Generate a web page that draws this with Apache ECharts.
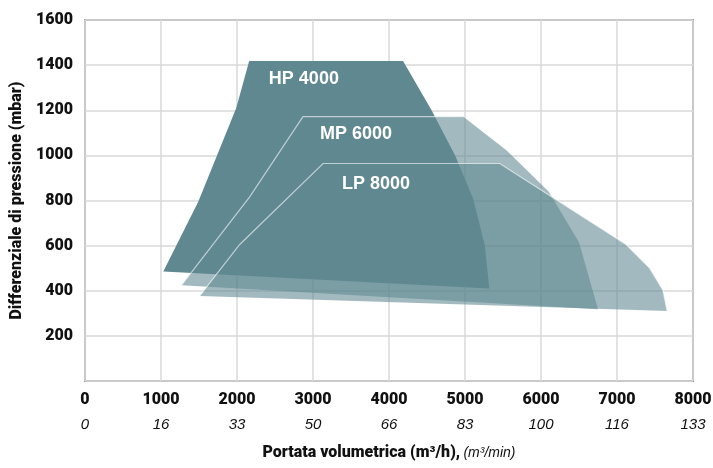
<!DOCTYPE html>
<html>
<head>
<meta charset="utf-8">
<script src="https://cdn.jsdelivr.net/npm/echarts@6/dist/echarts.min.js"></script>
<style>
  html, body { margin: 0; padding: 0; background: #fff; }
  #chart { width: 713px; height: 468px; }
</style>
</head>
<body>
<div id="chart"></div>
<script>
// envelope of each blower, [m3/h, mbar], bottom-left first, then up, across the top and down the right
const hp4000 = [[1030, 485], [1490, 795], [1990, 1210], [2160, 1418], [4185, 1418], [4560, 1200], [4870, 1000], [5105, 810], [5260, 602], [5320, 410]]
const mp6000 = [[1268, 424], [2167, 816], [2868, 1172], [4974, 1172], [5545, 1023], [6100, 840], [6500, 615], [6750, 318]]
const lp8000 = [[1509, 377], [2036, 605], [3132, 964], [5457, 964], [7120, 605], [7430, 500], [7605, 402], [7660, 310]]
const modelNames = ['HP 4000', 'MP 6000', 'LP 8000']

// second tick row, m3/min
const perMinute = ['0', '16', '33', '50', '66', '83', '100', '116', '133']

const TEAL = '#5f8891'
const BOLD = "Roboto, 'Liberation Sans', sans-serif"
const SANS = "'Liberation Sans', Arial, sans-serif"

// where the model names sit (data coords of text centre)
const labelAt = [[2880, 1337], [3567, 1094], [3830, 872]]

const chart = echarts.init(document.getElementById('chart'))

function fillSeries(name, pts, opacity, z) {
  return {
    type: 'custom',
    name: name,
    z: z,
    silent: true,
    data: pts,
    renderItem: function (params, api) {
      if (params.dataIndex !== 0) return
      const c = pts.map(p => api.coord(p))
      return {
        type: 'polygon',
        shape: { points: c },
        style: { fill: TEAL, opacity: opacity }
      }
    }
  }
}

const outlineSeries = {
  type: 'custom',
  z: 10,
  silent: true,
  data: [0],
  renderItem: function (params, api) {
    const line = pts => ({
      type: 'polyline',
      shape: { points: pts.map(p => api.coord(p)) },
      style: { stroke: 'rgba(255,255,255,0.6)', lineWidth: 1.2, fill: null }
    })
    const children = [line(mp6000.slice(0, 4)), line(lp8000)]
    modelNames.forEach((n, i) => {
      const p = api.coord(labelAt[i])
      children.push({
        type: 'text',
        x: p[0],
        y: p[1],
        style: {
          text: n,
          fill: '#fff',
          font: 'bold 18px ' + SANS,
          align: 'center',
          verticalAlign: 'middle'
        }
      })
    })
    return { type: 'group', children: children }
  }
}

const option = {
  animation: false,
  grid: {
    left: 85,
    right: 20,
    top: 20,
    bottom: 87,
    outerBoundsMode: 'none',
    containLabel: false,
    show: true,
    borderColor: '#9a9a9a',
    borderWidth: 2,
    backgroundColor: 'transparent'
  },
  xAxis: {
    type: 'value',
    min: 0,
    max: 8000,
    interval: 1000,
    axisLine: { show: false },
    axisTick: { show: false },
    splitLine: { show: true, lineStyle: { color: '#d8d8d8', width: 1.5 } },
    axisLabel: {
      margin: 8,
      formatter: function (v) {
        return '{a|' + v + '}\n{b|' + perMinute[Math.round(v / 1000)] + '}'
      },
      rich: {
        a: { fontFamily: BOLD, fontWeight: 900, fontSize: 16, color: '#111', lineHeight: 22 },
        b: { fontFamily: SANS, fontStyle: 'italic', fontSize: 15, color: '#111', lineHeight: 28 }
      }
    },
    name: '{a|Portata volumetrica (m³/h),} {b|(m³/min)}',
    nameLocation: 'middle',
    nameGap: 64,
    nameTextStyle: {
      rich: {
        a: { fontFamily: BOLD, fontWeight: 900, fontSize: 16, color: '#111' },
        b: { fontFamily: SANS, fontStyle: 'italic', fontSize: 14, color: '#111' }
      }
    }
  },
  yAxis: {
    type: 'value',
    min: 0,
    max: 1600,
    interval: 200,
    axisLine: { show: false },
    axisTick: { show: false },
    splitLine: { show: true, lineStyle: { color: '#d8d8d8', width: 1.5 } },
    axisLabel: {
      margin: 12,
      fontFamily: BOLD,
      fontWeight: 900,
      fontSize: 16,
      color: '#111',
      formatter: v => (v === 0 ? '' : String(v))
    },
    name: 'Differenziale di pressione (mbar)',
    nameLocation: 'middle',
    nameGap: 58,
    nameTextStyle: { fontFamily: BOLD, fontWeight: 900, fontSize: 16, color: '#111' }
  },
  series: [
    fillSeries(modelNames[2], lp8000, 0.58, 2),
    fillSeries(modelNames[1], mp6000, 0.58, 3),
    fillSeries(modelNames[0], hp4000, 1, 4),
    outlineSeries
  ]
}

chart.setOption(option)
</script>
</body>
</html>
